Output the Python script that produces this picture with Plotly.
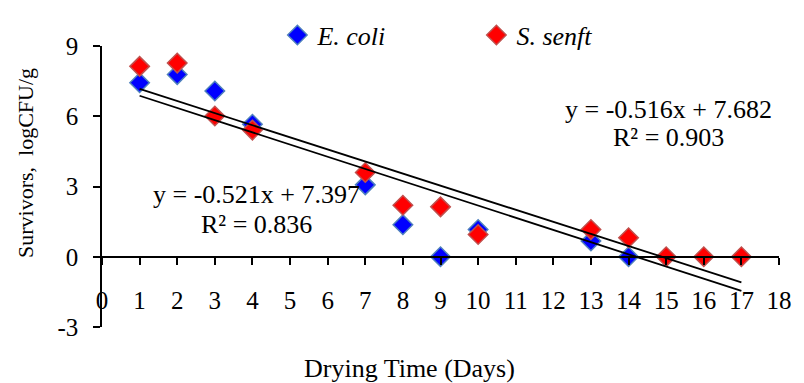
import plotly.graph_objects as go

# Data
ecoli_days = [1, 2, 3, 4, 7, 8, 9, 10, 13, 14]
ecoli_logcfu = [7.43, 7.78, 7.08, 5.66, 3.07, 1.37, 0.0, 1.16, 0.67, 0.0]
senft_days = [1, 2, 3, 4, 7, 8, 9, 10, 13, 14, 15, 16, 17]
senft_logcfu = [8.13, 8.27, 6.01, 5.41, 3.6, 2.2, 2.13, 0.95, 1.16, 0.81, 0.0, 0.0, 0.0]

# Trendline coefficients (slope, intercept, R²)
ecoli_fit = (-0.521, 7.397, 0.836)
senft_fit = (-0.516, 7.682, 0.903)
trend_x = [1, 17]

x_ticks = list(range(0, 19))
y_ticks = [-3, 0, 3, 6, 9]
y_ticktext = ["-3", "0", "3", "6", "9"]

FONT = "Liberation Serif"

L, R, T, B = 102, 15, 41, 56
W, H = 804, 383
pw, ph = W - L - R, H - T - B

fig = go.Figure()

fig.add_trace(go.Scatter(
    x=ecoli_days, y=ecoli_logcfu, mode="markers", name="E. coli",
    marker=dict(symbol="diamond", size=15, color="#0000FF",
                line=dict(color="#4F81BD", width=1.5)),
))
fig.add_trace(go.Scatter(
    x=senft_days, y=senft_logcfu, mode="markers", name="S. senft",
    marker=dict(symbol="diamond", size=15, color="#FF0000",
                line=dict(color="#C0504D", width=1.5)),
))

for slope, intercept, r2 in (ecoli_fit, senft_fit):
    fig.add_trace(go.Scatter(
        x=trend_x, y=[slope * v + intercept for v in trend_x],
        mode="lines", line=dict(color="black", width=1.8),
        showlegend=False, hoverinfo="skip",
    ))

def eq_text(slope, intercept):
    return f"y = {slope:.3f}x + {intercept:.3f}"

annos = [
    dict(x=15.05, y=6.29, text=eq_text(senft_fit[0], senft_fit[1])),
    dict(x=15.05, y=5.08, text=f"R² = {senft_fit[2]:.3f}"),
    dict(x=4.1, y=2.64, text=eq_text(ecoli_fit[0], ecoli_fit[1])),
    dict(x=4.1, y=1.38, text=f"R² = {ecoli_fit[2]:.3f}"),
]
annotations = []
for a in annos:
    annotations.append(dict(x=a["x"], y=a["y"], xref="x", yref="y", text=a["text"],
                            showarrow=False, xanchor="center", yanchor="middle",
                            font=dict(family=FONT, size=26, color="black")))

annotations.append(dict(xref="paper", yref="paper", x=(414 - L) / pw, y=(H - B - 369) / ph,
                        xanchor="center", yanchor="middle", text="Drying Time (Days)",
                        showarrow=False, font=dict(family=FONT, size=26, color="black")))
annotations.append(dict(xref="paper", yref="paper", x=(25 - L) / pw, y=(H - B - 160) / ph,
                        xanchor="center", yanchor="middle", text="Survivors,  logCFU/g",
                        textangle=-90, showarrow=False,
                        font=dict(family=FONT, size=22, color="black")))

fig.update_layout(
    width=W, height=H,
    margin=dict(l=L, r=R, t=T, b=B),
    paper_bgcolor="white", plot_bgcolor="white",
    font=dict(family=FONT, size=25, color="black"),
    showlegend=True,
    legend=dict(orientation="h", x=(280 - L) / pw, y=(H - B - 6) / ph,
                xanchor="left", yanchor="top",
                font=dict(family=FONT, size=26, style="italic", color="black"),
                entrywidth=154, bgcolor="rgba(0,0,0,0)"),
    xaxis=dict(range=[0, 18], tickvals=x_ticks, ticktext=[str(v) for v in x_ticks],
               showgrid=False, zeroline=False, showline=True, linecolor="black", linewidth=1.5,
               ticks="outside", ticklen=7, tickwidth=1.5, tickcolor="black",
               anchor="free", position=0.25, ticklabelstandoff=14,
               tickfont=dict(family=FONT, size=25, color="black")),
    yaxis=dict(range=[-3, 9], tickvals=y_ticks, ticktext=y_ticktext,
               showgrid=False, zeroline=False,
               showline=True, linecolor="black", linewidth=1.5,
               ticks="outside", ticklen=7, tickwidth=1.5, tickcolor="black",
               ticklabelstandoff=10,
               tickfont=dict(family=FONT, size=25, color="black")),
    annotations=annotations,
)

fig.write_html("out.html")
